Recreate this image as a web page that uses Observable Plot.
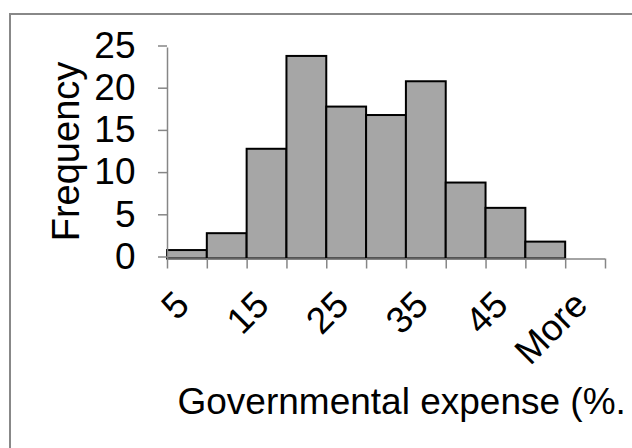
<!DOCTYPE html>
<html>
<head>
<meta charset="utf-8">
<script src="https://cdn.jsdelivr.net/npm/d3@7"></script>
<script src="https://cdn.jsdelivr.net/npm/@observablehq/plot@0.6"></script>
<style>
  html, body { margin: 0; padding: 0; background: #fff; overflow: hidden; }
  #chart { position: absolute; left: 0; top: 0; }
  #frame { position: absolute; left: 9px; top: 13px; width: 700px; height: 500px;
           border-left: 2px solid #888; border-top: 2px solid #888; pointer-events: none; }
</style>
</head>
<body>
<div id="chart"></div>
<div id="frame"></div>
<script>
// Histogram bins (upper limits) and counts
const bins = ["5", "10", "15", "20", "25", "30", "35", "40", "45", "50", "More"];
const frequency = [1, 3, 13, 24, 18, 17, 21, 9, 6, 2, 0];
const yTicks = [0, 5, 10, 15, 20, 25];
const shownLabels = ["5", "15", "25", "35", "45", "More"];
const xTitle = "Governmental expense (%.";
const yTitle = "Frequency";

const table = bins.map((b, i) => ({bin: b, i, f: frequency[i]}));
const labelData = table.filter(d => shownLabels.includes(d.bin));
const boundaries = d3.range(0, bins.length + 1);

const axisColor = "#868686";
const font = "'Liberation Sans', Arial, Helvetica, sans-serif";

const chart = Plot.plot({
  width: 632,
  height: 448,
  marginLeft: 167,
  marginRight: 27,
  marginTop: 47.5,
  marginBottom: 189.5,
  style: {fontFamily: font, fontSize: "36px", color: "#000", background: "transparent", overflow: "visible"},
  x: {domain: [0, bins.length], axis: null},
  y: {domain: [0, 25], axis: null},
  marks: [
    Plot.rectY(table.filter(d => d.f > 0), {
      x1: "i", x2: d => d.i + 1, y1: 0, y2: "f",
      fill: "#a6a6a6", stroke: "#000", strokeWidth: 2
    }),
    Plot.ruleX([0], {y1: 0, y2: 25, stroke: axisColor, strokeWidth: 1.5}),
    Plot.ruleY([0], {x1: 0, x2: bins.length, stroke: axisColor, strokeWidth: 1.5}),
    Plot.axisY(yTicks, {
      anchor: "left", tickSize: 9, tickPadding: 23, stroke: axisColor, strokeWidth: 1.5,
      fill: "#000", fontSize: 37, label: null, dy: -2
    }),
    Plot.axisX(boundaries, {
      anchor: "bottom", tickSize: 10, stroke: axisColor, strokeWidth: 1.5,
      fill: "none", label: null
    }),
    Plot.text(labelData, {
      x: d => d.i + 0.5, text: "bin", frameAnchor: "bottom",
      rotate: -45, textAnchor: "end", lineAnchor: "bottom",
      dx: 4, dy: 48, fontSize: 37, fill: "#000"
    }),
    Plot.text([yTitle], {
      text: d => d, frameAnchor: "left", rotate: -90,
      textAnchor: "middle", lineAnchor: "bottom",
      dx: -89, dy: -2, fontSize: 38, fill: "#000"
    }),
    Plot.text([xTitle], {
      text: d => d, frameAnchor: "bottom-left",
      textAnchor: "start", lineAnchor: "bottom",
      dx: 10, dy: 154.5, fontSize: 37, fill: "#000"
    })
  ]
});
document.getElementById("chart").appendChild(chart);
</script>
</body>
</html>
